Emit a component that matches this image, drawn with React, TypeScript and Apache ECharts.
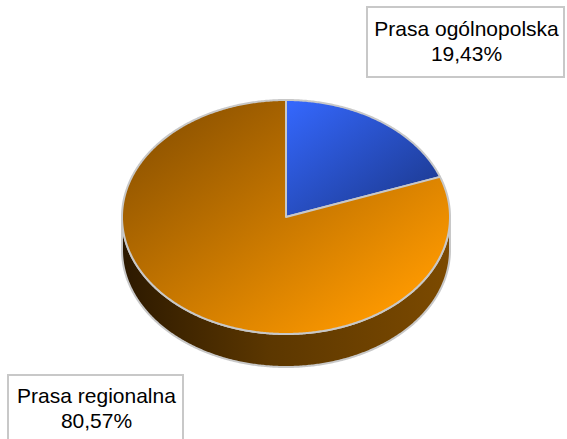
import React, { useEffect, useRef } from "react";
import * as echarts from "echarts";

const categories = ["Prasa ogólnopolska", "Prasa regionalna"];
const shares = [19.43, 80.57];

// layout (not data)
const CX = 286;
const CY = 217;
const RX = 164;
const RY = 117;
const DEPTH = 33;
const LABEL_BOXES = [
  { x: 367, y: 7, w: 197, h: 70, ty: 41 },
  { x: 8, y: 375, w: 175, h: 74, ty: 408 },
];
const TOP_FILLS = [
  { from: "#3568ff", to: "#1a3585", end: 1 },
  { from: "#7f4a00", to: "#ff9a00", end: 0.88 },
];
const FONT = '21px "Liberation Sans", Arial, sans-serif';
const EDGE = "#c8c8c8";

function pt(deg: number, dy = 0): number[] {
  const r = (deg * Math.PI) / 180;
  return [CX + RX * Math.sin(r), CY - RY * Math.cos(r) + dy];
}

function angles(i: number) {
  const total = shares.reduce((a, b) => a + b, 0);
  let before = 0;
  for (let k = 0; k < i; k++) before += shares[k];
  return [(before / total) * 360, ((before + shares[i]) / total) * 360];
}

function arcPoints(a: number, b: number, dy = 0): number[][] {
  const pts: number[][] = [];
  const n = Math.max(2, Math.ceil(Math.abs(b - a) / 0.5));
  for (let k = 0; k <= n; k++) pts.push(pt(a + ((b - a) * k) / n, dy));
  return pts;
}

export default function App() {
  const ref = useRef<HTMLDivElement>(null);
  useEffect(() => {
    if (!ref.current) return;
    const chart = echarts.init(ref.current, undefined, { renderer: "svg" });
    const data = categories.map((name, i) => ({ name, value: shares[i] }));
    chart.setOption({
      animation: false,
      backgroundColor: "#ffffff",
      series: [
        {
          type: "custom",
          coordinateSystem: "none",
          silent: true,
          z: 1,
          data,
          renderItem: (params: any) => {
            const [a0, a1] = angles(params.dataIndex);
            const a = Math.max(a0, 90);
            const b = Math.min(a1, 270);
            if (a >= b) return { type: "group", children: [] };
            const pts = arcPoints(a, b).concat(arcPoints(b, a, DEPTH));
            return {
              type: "polygon",
              shape: { points: pts },
              style: {
                fill: {
                  type: "linear",
                  x: 0,
                  y: 0,
                  x2: 1,
                  y2: 0,
                  colorStops: [
                    { offset: 0, color: "#2c1900" },
                    { offset: 0.45, color: "#5c3700" },
                    { offset: 1, color: "#7c4a00" },
                  ],
                },
                stroke: EDGE,
                lineWidth: 2,
              },
            };
          },
        },
        {
          type: "custom",
          coordinateSystem: "none",
          silent: true,
          z: 2,
          data,
          renderItem: (params: any) => {
            const i = params.dataIndex;
            const [a0, a1] = angles(i);
            const pts = [[CX, CY]].concat(arcPoints(a0, a1));
            const f = TOP_FILLS[i];
            return {
              type: "polygon",
              shape: { points: pts },
              style: {
                fill: {
                  type: "linear",
                  x: 0,
                  y: 0,
                  x2: f.end,
                  y2: f.end,
                  colorStops: [
                    { offset: 0, color: f.from },
                    { offset: 1, color: f.to },
                  ],
                },
                stroke: EDGE,
                lineWidth: 2,
                lineJoin: "round",
              },
            };
          },
        },
        {
          type: "custom",
          coordinateSystem: "none",
          silent: true,
          z: 3,
          data,
          renderItem: (params: any, api: any) => {
            const i = params.dataIndex;
            const box = LABEL_BOXES[i];
            const v = api.value(0) as number;
            const txt = categories[i] + "\n" + v.toFixed(2).replace(".", ",") + "%";
            return {
              type: "group",
              children: [
                {
                  type: "rect",
                  shape: { x: box.x, y: box.y, width: box.w, height: box.h },
                  style: { fill: "#ffffff", stroke: EDGE, lineWidth: 2 },
                },
                {
                  type: "text",
                  x: box.x + box.w / 2 + 1,
                  y: box.ty,
                  style: {
                    text: txt,
                    font: FONT,
                    fill: "#000000",
                    align: "center",
                    verticalAlign: "middle",
                    lineHeight: 25,
                  },
                },
              ],
            };
          },
        },
      ],
    });
    return () => chart.dispose();
  }, []);
  return (
    <div
      ref={ref}
      style={{ position: "fixed", left: 0, top: 0, width: 567, height: 439 }}
    />
  );
}
